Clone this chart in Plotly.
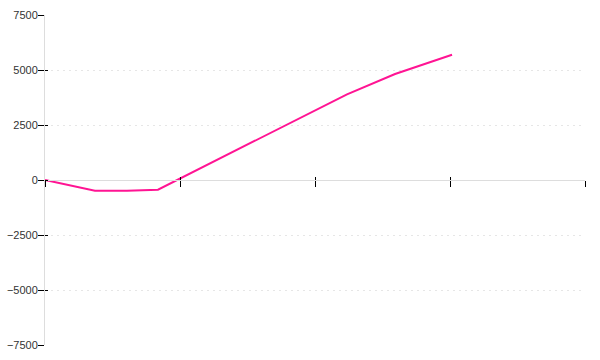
import plotly.graph_objects as go

x_vals = [0, 0.370, 0.607, 0.837, 2.237, 2.593, 3.015]
y_vals = [0, -486, -486, -441, 3895, 4818, 5695]
y_ticks = [-7500, -5000, -2500, 0, 2500, 5000, 7500]
x_ticks = [0, 1, 2, 3, 4]

fig = go.Figure()
fig.add_trace(go.Scatter(x=x_vals, y=y_vals, mode="lines",
                         line=dict(color="#ff1493", width=2), showlegend=False,
                         hoverinfo="skip"))
fig.add_trace(go.Scatter(x=[], y=[], xaxis="x2", yaxis="y2", showlegend=False))

grid_col = "#e6e6e6"
axis_col = "#dddddd"
font = dict(family="Liberation Sans, Arial", size=11, color="#333333")

fig.update_layout(
    width=600, height=360,
    margin=dict(l=45, r=15, t=15, b=15, pad=0, autoexpand=False),
    plot_bgcolor="white", paper_bgcolor="white",
    font=font,
    xaxis=dict(range=[0, 4], tickvals=x_ticks, showticklabels=False,
               anchor="free", position=0.5, showline=True, linecolor=axis_col,
               linewidth=1, ticks="outside", ticklen=6, tickcolor="black",
               tickwidth=1, showgrid=False, zeroline=False, automargin=False),
    xaxis2=dict(range=[0, 4], tickvals=x_ticks, showticklabels=False,
                overlaying="x", anchor="free", position=0.5, showline=False,
                ticks="inside", ticklen=3, tickcolor="black", tickwidth=1,
                showgrid=False, zeroline=False, automargin=False),
    yaxis=dict(range=[-7500, 7500], tickvals=y_ticks, showline=True,
               linecolor=axis_col, linewidth=1, ticks="outside", ticklen=6,
               tickcolor="black", tickwidth=1, showgrid=True, gridcolor=grid_col,
               griddash="2px,4px", gridwidth=1, zeroline=False,
               ticklabelstandoff=-2, tickfont=font, automargin=False),
    yaxis2=dict(range=[-7500, 7500], tickvals=y_ticks, overlaying="y",
                anchor="x", showticklabels=False, showline=False,
                ticks="inside", ticklen=3, tickcolor="black", tickwidth=1,
                showgrid=False, zeroline=False, automargin=False),
)

fig.write_html("out.html")
